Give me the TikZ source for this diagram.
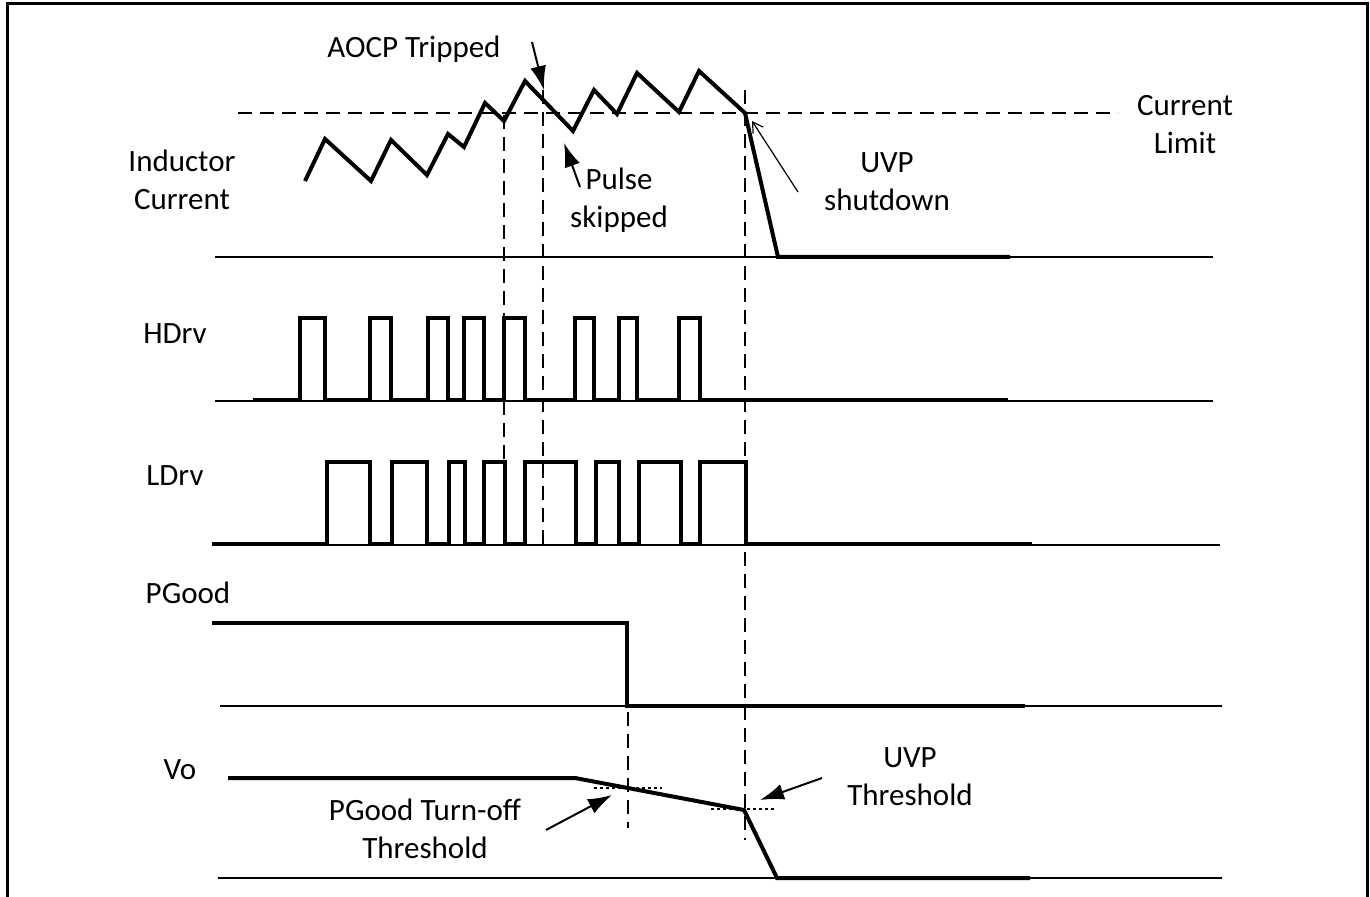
\documentclass[tikz,border=0pt]{standalone}
\usepackage{fontspec}
\setmainfont{Carlito}
\usepackage{tikz}
\usetikzlibrary{arrows.meta,positioning}

\begin{document}
\begin{tikzpicture}[
    x=0.5pt, y=-0.5pt,
    every node/.style={align=center, inner sep=0pt, font=\fontsize{15.5}{19}\selectfont},
    wave/.style={line width=2pt},
    base/.style={line width=0.65pt},
    guide/.style={line width=1pt, dash pattern=on 7pt off 4pt},
    level/.style={line width=0.8pt, dash pattern=on 1.5pt off 1.5pt},
    callout/.style={line width=1pt, -{Latex[length=12pt,width=8pt]}},
    thin callout/.style={line width=0.6pt, -{Straight Barb[length=5pt,width=6pt]}}
]
  \useasboundingbox (0,0) rectangle (1370,897);
  \draw[line width=1.5pt] (7,897) -- (7,4) -- (1367,4) -- (1367,897);

  % nodes
  \node (iL)    at (182,180)  {Inductor\\Current};
  \node (ilim)  at (1185,125) {Current\\Limit};
  \node (hdrv)  at (175,334)  {HDrv};
  \node (ldrv)  at (175,476)  {LDrv};
  \node (pgood) at (188,593)  {PGood};
  \node (vo)    at (180,770)  {Vo};
  \node (aocp)  at (414,49)   {AOCP Tripped};
  \node (skip)  at (619,200)  {Pulse\\skipped};
  \node (uvpsd) at (887,182)  {UVP\\shutdown};
  \node (pgth)  at (425,829)  {PGood Turn-off\\Threshold};
  \node (uvpth) at (910,777)  {UVP\\Threshold};

  % arrow ends
  \coordinate (aocp tail) at (532,42);
  \coordinate (aocp tip)  at (544,90);
  \coordinate (skip tail) at (580,187);
  \coordinate (skip tip)  at (564,143);
  \coordinate (sd tail)   at (798,192);
  \coordinate (sd tip)    at (752,121);
  \coordinate (pg tail)   at (546,830);
  \coordinate (pg tip)    at (612,795);
  \coordinate (uv tail)   at (822,778);
  \coordinate (uv tip)    at (760,800);

  % baselines
  \draw[base] (215,257) -- (1213,257);
  \draw[base] (215,401) -- (1213,401);
  \draw[base] (215,545) -- (1220,545);
  \draw[base] (220,706) -- (1222,706);
  \draw[base] (218,878) -- (1222,878);

  % guides
  \draw[guide] (238,113) -- (1118,113);
  \draw[guide] (504,115) -- (504,545);
  \draw[guide] (543,90) -- (543,545);
  \draw[guide] (745,90) -- (745,840);
  \draw[guide] (628,712) -- (628,828);
  \draw[level] (594,788) -- (662,788);
  \draw[level] (711,809) -- (775,809);

  % waveforms
  \draw[wave] (305,181) -- (325,139) -- (371,181) -- (391,140) -- (427,175) -- (448,134)
    -- (464,147) -- (485,103) -- (504,121) -- (525,81) -- (573,131) -- (594,90) -- (617,114)
    -- (637,73) -- (679,112) -- (699,71) -- (745,113) -- (778,257) -- (1010,257);
  \draw[wave] (253,400) foreach \a/\b in {300/325,370/391,428/448,464/484,504/525,575/594,619/637,679/700}
    { -- (\a,400) -- (\a,318) -- (\b,318) -- (\b,400) } -- (1008,400);
  \draw[wave] (212,544) foreach \a/\b in {327/370,392/427,449/465,484/505,525/576,596/619,639/681,700/746}
    { -- (\a,544) -- (\a,462) -- (\b,462) -- (\b,544) } -- (1032,544);
  \draw[wave] (212,623) -- (627,623) -- (627,706) -- (1025,706);
  \draw[wave] (228,778) -- (575,778) -- (744,810) -- (777,878) -- (1030,878);

  % edges
  \draw[callout] (aocp tail) -- (aocp tip);
  \draw[callout] (skip tail) -- (skip tip);
  \draw[thin callout] (sd tail) -- (sd tip);
  \draw[callout] (pg tail) -- (pg tip);
  \draw[callout] (uv tail) -- (uv tip);
\end{tikzpicture}
\end{document}
